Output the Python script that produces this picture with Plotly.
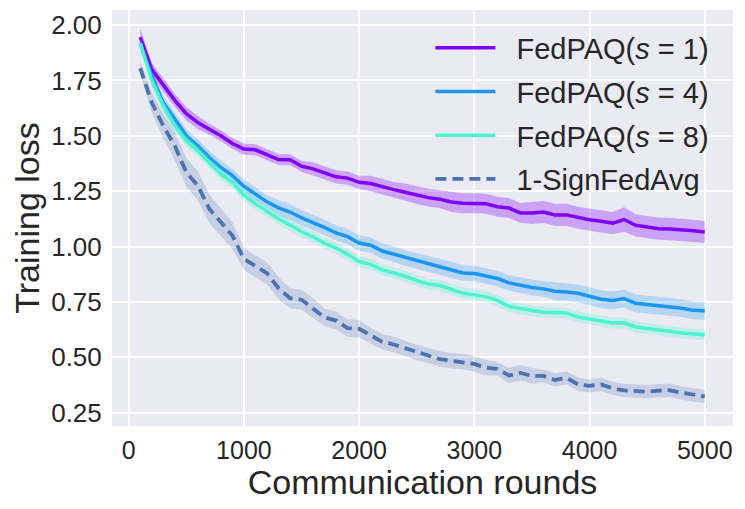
import plotly.graph_objects as go

rounds = list(range(100, 5001, 100))

loss_s1 = [1.945, 1.80, 1.73, 1.66, 1.60, 1.56, 1.53, 1.50, 1.465, 1.44,
           1.437, 1.415, 1.393, 1.392, 1.363, 1.351, 1.333, 1.315, 1.309, 1.29,
           1.285, 1.27, 1.257, 1.245, 1.232, 1.221, 1.214, 1.201, 1.196, 1.196,
           1.193, 1.18, 1.174, 1.152, 1.152, 1.156, 1.143, 1.143, 1.13, 1.121,
           1.114, 1.106, 1.122, 1.096, 1.088, 1.081, 1.079, 1.076, 1.071, 1.066]
loss_s4 = [1.918, 1.77, 1.65, 1.574, 1.50, 1.455, 1.402, 1.357, 1.32, 1.272,
           1.238, 1.202, 1.175, 1.156, 1.13, 1.109, 1.086, 1.062, 1.045, 1.016,
           1.006, 0.98, 0.966, 0.948, 0.934, 0.921, 0.91, 0.894, 0.881, 0.878,
           0.868, 0.856, 0.836, 0.825, 0.815, 0.809, 0.798, 0.795, 0.789, 0.776,
           0.762, 0.757, 0.765, 0.744, 0.739, 0.734, 0.728, 0.722, 0.712, 0.710]
loss_s8 = [1.918, 1.75, 1.635, 1.545, 1.477, 1.432, 1.38, 1.327, 1.29, 1.232,
           1.194, 1.158, 1.126, 1.097, 1.067, 1.044, 1.015, 0.993, 0.965, 0.932,
           0.92, 0.895, 0.882, 0.866, 0.846, 0.831, 0.824, 0.806, 0.79, 0.782,
           0.773, 0.757, 0.73, 0.72, 0.71, 0.704, 0.702, 0.700, 0.682, 0.672,
           0.662, 0.655, 0.656, 0.637, 0.63, 0.625, 0.618, 0.61, 0.604, 0.602]
loss_sign = [1.806, 1.65, 1.545, 1.455, 1.335, 1.275, 1.17, 1.11, 1.05, 0.945,
             0.91, 0.88, 0.812, 0.767, 0.76, 0.722, 0.68, 0.666, 0.632, 0.629,
             0.598, 0.57, 0.558, 0.54, 0.522, 0.508, 0.492, 0.485, 0.481, 0.47,
             0.453, 0.448, 0.418, 0.43, 0.416, 0.416, 0.398, 0.407, 0.378, 0.371,
             0.378, 0.36, 0.351, 0.347, 0.345, 0.35, 0.351, 0.34, 0.33, 0.324]

# spread of the shaded bands (half width)
sd_s1 = [0.04, 0.03, 0.03, 0.03, 0.03, 0.03, 0.025, 0.025, 0.025, 0.025,
         0.025, 0.025, 0.025, 0.025, 0.025, 0.03, 0.03, 0.03, 0.03, 0.03,
         0.035, 0.035, 0.035, 0.04, 0.04, 0.04, 0.04, 0.045, 0.045, 0.045,
         0.045, 0.045, 0.045, 0.045, 0.05, 0.05, 0.05, 0.05, 0.05, 0.05,
         0.05, 0.05, 0.055, 0.05, 0.05, 0.05, 0.05, 0.05, 0.05, 0.05]
sd_s4 = [0.02, 0.025, 0.03, 0.03, 0.03, 0.03, 0.03, 0.03, 0.03, 0.03,
         0.03, 0.03, 0.035, 0.035, 0.035, 0.035, 0.035, 0.035, 0.035, 0.035,
         0.035, 0.035, 0.035, 0.035, 0.035, 0.035, 0.035, 0.035, 0.035, 0.035,
         0.035, 0.035, 0.035, 0.035, 0.035, 0.035, 0.04, 0.04, 0.04, 0.04,
         0.04, 0.04, 0.04, 0.04, 0.04, 0.04, 0.04, 0.04, 0.04, 0.04]
sd_s8 = [0.02, 0.025, 0.025, 0.025, 0.025, 0.025, 0.025, 0.025, 0.025, 0.025,
         0.025, 0.025, 0.025, 0.025, 0.025, 0.025, 0.025, 0.025, 0.025, 0.025,
         0.025, 0.025, 0.025, 0.025, 0.025, 0.025, 0.025, 0.025, 0.025, 0.025,
         0.025, 0.025, 0.025, 0.025, 0.025, 0.025, 0.025, 0.025, 0.025, 0.025,
         0.025, 0.025, 0.025, 0.025, 0.025, 0.025, 0.025, 0.025, 0.025, 0.025]
sd_sign = [0.03, 0.045, 0.055, 0.065, 0.065, 0.065, 0.065, 0.065, 0.06, 0.05,
           0.05, 0.05, 0.05, 0.045, 0.045, 0.045, 0.04, 0.04, 0.04, 0.04,
           0.035, 0.035, 0.035, 0.035, 0.035, 0.035, 0.035, 0.035, 0.035, 0.035,
           0.035, 0.03, 0.035, 0.035, 0.035, 0.03, 0.03, 0.03, 0.03, 0.03,
           0.03, 0.03, 0.03, 0.03, 0.03, 0.03, 0.03, 0.03, 0.03, 0.03]

names = ["FedPAQ(<i>s</i> = 1)", "FedPAQ(<i>s</i> = 4)", "FedPAQ(<i>s</i> = 8)", "1-SignFedAvg"]
means = [loss_s1, loss_s4, loss_s8, loss_sign]
spreads = [sd_s1, sd_s4, sd_s8, sd_sign]
colors = [(128, 0, 255), (24, 150, 242), (77, 243, 206), (76, 114, 176)]
band_alpha = [0.3, 0.25, 0.25, 0.22]
dashes = ["solid", "solid", "solid", "11px,6px"]

fig = go.Figure()
for name, m, sd, c, a, d in zip(names, means, spreads, colors, band_alpha, dashes):
    lo = [v - s for v, s in zip(m, sd)]
    hi = [v + s for v, s in zip(m, sd)]
    rgb = "rgb(%d,%d,%d)" % c
    fig.add_trace(go.Scatter(x=rounds, y=lo, mode="lines", line=dict(width=0),
                             showlegend=False, hoverinfo="skip", legendgroup=name))
    fig.add_trace(go.Scatter(x=rounds, y=hi, mode="lines", line=dict(width=0),
                             fill="tonexty", fillcolor="rgba(%d,%d,%d,%s)" % (c + (a,)),
                             showlegend=False, hoverinfo="skip", legendgroup=name))
    # a little space between legend line and label
    fig.add_trace(go.Scatter(x=rounds, y=m, mode="lines", name="\u00a0\u00a0" + name,
                             legendgroup=name,
                             line=dict(color=rgb, width=3.5 if d == "solid" else 3.8, dash=d)))

# page body has an 8px margin, so the figure is a bit smaller than the window
fig.update_layout(
    width=729, height=493,
    margin=dict(l=104, r=4, t=2, b=75),
    paper_bgcolor="white",
    plot_bgcolor="#eaeaf2",
    font=dict(family="Liberation Sans, Arial, sans-serif", color="#262626"),
    legend=dict(x=0.97, xanchor="right", y=0.97, yanchor="top",
                bgcolor="rgba(0,0,0,0)", font=dict(size=29),
                traceorder="grouped", tracegroupgap=3, itemwidth=60),
    xaxis=dict(range=[-145, 5245], tickvals=[0, 1000, 2000, 3000, 4000, 5000],
               showgrid=True, gridcolor="white", gridwidth=1.5, zeroline=False,
               ticks="outside", ticklen=2, tickcolor="rgba(0,0,0,0)",
               tickfont=dict(size=25), showline=False, automargin=False,
               title=dict(text="Communication rounds", font=dict(size=34))),
    yaxis=dict(range=[0.19, 2.068], tickvals=[0.25, 0.5, 0.75, 1.0, 1.25, 1.5, 1.75, 2.0],
               tickformat=".2f", showgrid=True, gridcolor="white", gridwidth=1.5,
               zeroline=False, ticks="outside", ticklen=4, tickcolor="rgba(0,0,0,0)",
               tickfont=dict(size=26), showline=False, automargin=False,
               title=dict(text="Training loss", font=dict(size=34))),
)

fig.write_html("out.html")
